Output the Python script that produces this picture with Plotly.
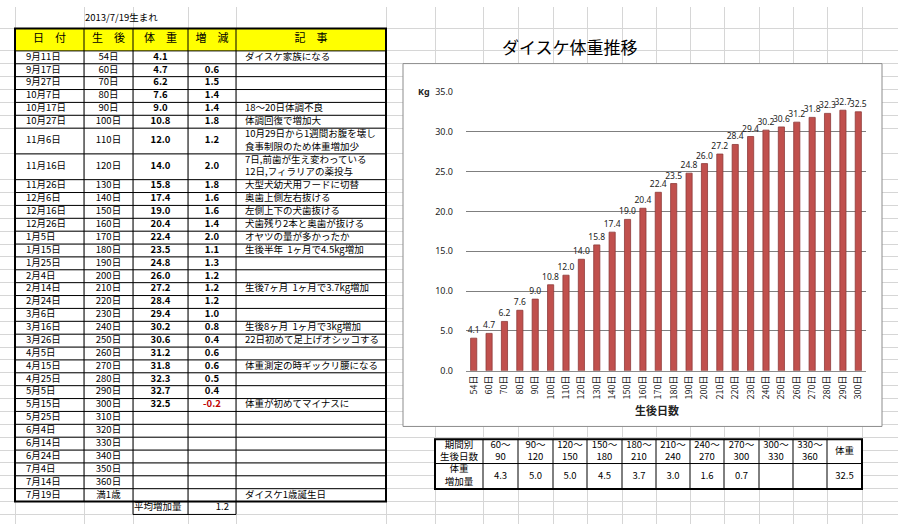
import plotly.graph_objects as go

# ---------------- data ----------------
birth_note = "2013/7/19生まれ"
headers = ["日　付", "生　後", "体　重", "増　減", "記　事"]
dates = ["9月11日", "9月17日", "9月27日", "10月7日", "10月17日", "10月27日", "11月6日", "11月16日",
         "11月26日", "12月6日", "12月16日", "12月26日", "1月5日", "1月15日", "1月25日", "2月4日",
         "2月14日", "2月24日", "3月6日", "3月16日", "3月26日", "4月5日", "4月15日", "4月25日",
         "5月5日", "5月15日", "5月25日", "6月4日", "6月14日", "6月24日", "7月4日", "7月14日", "7月19日"]
ages = ["54日", "60日", "70日", "80日", "90日", "100日", "110日", "120日", "130日", "140日", "150日",
        "160日", "170日", "180日", "190日", "200日", "210日", "220日", "230日", "240日", "250日",
        "260日", "270日", "280日", "290日", "300日", "310日", "320日", "330日", "340日", "350日",
        "360日", "満1歳"]
weights = [4.1, 4.7, 6.2, 7.6, 9.0, 10.8, 12.0, 14.0, 15.8, 17.4, 19.0, 20.4, 22.4, 23.5, 24.8,
           26.0, 27.2, 28.4, 29.4, 30.2, 30.6, 31.2, 31.8, 32.3, 32.7, 32.5]
changes = [None, 0.6, 1.5, 1.4, 1.4, 1.8, 1.2, 2.0, 1.8, 1.6, 1.6, 1.4, 2.0, 1.1, 1.3, 1.2, 1.2,
           1.2, 1.0, 0.8, 0.4, 0.6, 0.6, 0.5, 0.4, -0.2]
notes = ["ダイスケ家族になる", "", "", "", "18〜20日体調不良", "体調回復で増加大",
         "10月29日から1週間お腹を壊し<br>食事制限のため体重増加少",
         "7日,前歯が生え変わっている<br>12日,フィラリアの薬投与",
         "大型犬幼犬用フードに切替", "奥歯上側左右抜ける", "左側上下の犬歯抜ける",
         "犬歯残り2本と奥歯が抜ける", "オヤツの量が多かったか", "生後半年  1ヶ月で4.5kg増加",
         "", "", "生後7ヶ月  1ヶ月で3.7kg増加", "", "", "生後8ヶ月  1ヶ月で3kg増加",
         "22日初めて足上げオシッコする", "", "体重測定の時ギックリ腰になる", "", "",
         "体重が初めてマイナスに", "", "", "", "", "", "", "ダイスケ1歳誕生日"]
avg_label = "平均増加量"
avg_gain = 1.2

chart_title = "ダイスケ体重推移"
x_title = "生後日数"
y_unit = "Kg"

period_head = "期間別<br>生後日数"
periods = ["60〜<br>90", "90〜<br>120", "120〜<br>150", "150〜<br>180", "180〜<br>210",
           "210〜<br>240", "240〜<br>270", "270〜<br>300", "300〜<br>330", "330〜<br>360"]
gain_head = "体重<br>増加量"
period_gains = [4.3, 5.0, 5.0, 4.5, 3.7, 3.0, 1.6, 0.7, None, None]
weight_head = "体重"
current_weight = 32.5

# ---------------- layout geometry (pixels) ----------------
W, H = 898, 530
FONT = "Noto Sans CJK JP"
BODY = 9.5
LT_COLS = [15, 84, 133, 188, 236, 386]
LT_TOP, LT_HEAD_BOT = 22, 45
ROW_U = 13.2
row_h = [ROW_U * (n.count("<br>") + 1) for n in notes]
edges = [LT_HEAD_BOT]
for h in row_h:
    edges.append(edges[-1] + h)
centers = [(edges[i] + edges[i + 1]) / 2 for i in range(len(row_h))]
BT_COLS = [435, 483, 518, 553, 587, 622, 656, 690, 724, 759, 793, 827, 862]
BT_ROWS = [443, 468, 494]
BOX = (403, 58, 882, 430)
PLOT_X = (466, 866)
PLOT_Y = (87, 373)

grid_x = LT_COLS + BT_COLS
grid_y = [1, LT_TOP, LT_HEAD_BOT] + edges[1:] + [edges[-1] + ROW_U]

fig = go.Figure()


def text_trace(xs, ys, texts, pos="middle center", size=BODY, color="black", weight="normal"):
    fig.add_trace(go.Scatter(
        x=xs, y=ys, text=texts, mode="text", textposition=pos,
        textfont=dict(family=FONT, size=size, color=color, weight=weight),
        xaxis="x", yaxis="y", hoverinfo="skip", showlegend=False, cliponaxis=False))


def mid(a, b):
    return (a + b) / 2


# left table
hdr_x = [mid(LT_COLS[i], LT_COLS[i + 1]) for i in range(5)]
text_trace(hdr_x, [mid(LT_TOP, LT_HEAD_BOT)] * 5, headers, size=11)
text_trace([LT_COLS[0] + 11] * len(dates), centers, dates, pos="middle right")
text_trace([hdr_x[1]] * len(ages), centers, ages)
text_trace([hdr_x[2]] * len(weights), centers[:len(weights)], [f"{w:.1f}" for w in weights],
           weight="bold")
ci = [i for i, c in enumerate(changes) if c is not None]
text_trace([hdr_x[3]] * len(ci), [centers[i] for i in ci], [f"{changes[i]:.1f}" for i in ci],
           color=["#c00000" if changes[i] < 0 else "black" for i in ci], weight="bold")
ni = [i for i, n in enumerate(notes) if n]
text_trace([LT_COLS[4] + 9] * len(ni), [centers[i] for i in ni], [notes[i] for i in ni],
           pos="middle right")
avg_y = edges[-1] + ROW_U / 2
text_trace([LT_COLS[2] + 1], [avg_y], [avg_label], pos="middle right")
text_trace([LT_COLS[4] - 7], [avg_y], [f"{avg_gain:.1f}"], pos="middle left")
text_trace([LT_COLS[1] + 1], [12], [birth_note], pos="middle right")

# bottom table
bt_x = [mid(BT_COLS[i], BT_COLS[i + 1]) for i in range(len(BT_COLS) - 1)]
r1, r2 = mid(BT_ROWS[0], BT_ROWS[1]), mid(BT_ROWS[1], BT_ROWS[2])
text_trace(bt_x, [r1] * len(bt_x), [period_head] + periods + [weight_head])
gi = [i for i, g in enumerate(period_gains) if g is not None]
text_trace([bt_x[0]] + [bt_x[i + 1] for i in gi] + [bt_x[-1]], [r2] * (len(gi) + 2),
           [gain_head] + [f"{period_gains[i]:.1f}" for i in gi] + [f"{current_weight:.1f}"])

# bar chart
fig.add_trace(go.Bar(
    x=ages[:len(weights)], y=weights, xaxis="x2", yaxis="y2",
    marker=dict(color="#c0504d", line=dict(color="#8e3a38", width=0.8)),
    width=0.4, text=[f"{w:.1f}" for w in weights], textposition="outside",
    textangle=0, constraintext="none", cliponaxis=False,
    textfont=dict(family="Noto Sans", size=8.5, color="#222"),
    hoverinfo="skip", showlegend=False))

# ---------------- shapes ----------------
shapes = []


def rect(x0, y0, x1, y1, fill=None, line_color="black", width=1, layer="above"):
    shapes.append(dict(type="rect", xref="x", yref="y", x0=x0, y0=y0, x1=x1, y1=y1,
                       fillcolor=fill if fill else "rgba(0,0,0,0)",
                       line=dict(color=line_color, width=width), layer=layer))


def hline(x0, x1, y, width=1, color="black"):
    shapes.append(dict(type="line", xref="x", yref="y", x0=x0, x1=x1, y0=y, y1=y,
                       line=dict(color=color, width=width)))


def vline(x, y0, y1, width=1, color="black"):
    shapes.append(dict(type="line", xref="x", yref="y", x0=x, x1=x, y0=y0, y1=y1,
                       line=dict(color=color, width=width)))


# chart box
rect(*BOX, fill="white", line_color="#8c8c8c", width=1, layer="between")
# left table fills / lines
rect(LT_COLS[0], LT_TOP, LT_COLS[-1], LT_HEAD_BOT, fill="#ffff00", line_color="rgba(0,0,0,0)",
     width=0, layer="between")
for x in LT_COLS[1:-1]:
    vline(x, LT_TOP, edges[-1])
for y in edges[:-1]:
    hline(LT_COLS[0], LT_COLS[-1], y)
rect(LT_COLS[0], LT_TOP, LT_COLS[-1], edges[-1], width=2)
rect(LT_COLS[2], edges[-1], LT_COLS[4], edges[-1] + ROW_U, width=1)
vline(LT_COLS[3], edges[-1], edges[-1] + ROW_U)
# bottom table
rect(BT_COLS[0], BT_ROWS[0], BT_COLS[-1], BT_ROWS[-1], fill="white", line_color="rgba(0,0,0,0)",
     width=0, layer="between")
for x in BT_COLS[1:-1]:
    vline(x, BT_ROWS[0], BT_ROWS[-1])
hline(BT_COLS[0], BT_COLS[-1], BT_ROWS[1])
rect(BT_COLS[0], BT_ROWS[0], BT_COLS[-1], BT_ROWS[-1], width=2)

# ---------------- annotations ----------------
annotations = [
    dict(text=chart_title, x=570, y=41, xref="x", yref="y", showarrow=False,
         font=dict(family=FONT, size=17, color="black")),
    dict(text=y_unit, x=424, y=PLOT_Y[0], xref="x", yref="y", showarrow=False,
         font=dict(family="Noto Sans", size=9, color="#222", weight="bold")),
    dict(text=x_title, x=657, y=413, xref="x", yref="y", showarrow=False,
         font=dict(family=FONT, size=11, color="#222", weight="bold")),
]

fig.update_layout(
    width=W, height=H, margin=dict(l=0, r=0, t=0, b=0),
    paper_bgcolor="white", plot_bgcolor="white",
    showlegend=False, shapes=shapes, annotations=annotations,
    xaxis=dict(domain=[0, 1], range=[0, W], tickvals=grid_x, showgrid=True,
               gridcolor="#d6d6d6", gridwidth=1, showticklabels=False, zeroline=False,
               showline=False, ticks="", fixedrange=True),
    yaxis=dict(domain=[0, 1], range=[H, 0], tickvals=grid_y, showgrid=True,
               gridcolor="#d6d6d6", gridwidth=1, showticklabels=False, zeroline=False,
               showline=False, ticks="", fixedrange=True),
    xaxis2=dict(domain=[PLOT_X[0] / W, PLOT_X[1] / W], anchor="y2", type="category",
                tickangle=-90, tickfont=dict(family=FONT, size=9, color="#222"),
                showline=True, linecolor="#8c8c8c", showgrid=False, ticks="",
                fixedrange=True),
    yaxis2=dict(domain=[(H - PLOT_Y[1]) / H, (H - PLOT_Y[0]) / H], anchor="x2",
                range=[0, 35], dtick=5, tickformat=".1f", showgrid=True,
                gridcolor="#7f7f7f", gridwidth=1, zeroline=False, showline=False,
                ticks="", ticklabelstandoff=12,
                tickfont=dict(family="Noto Sans", size=9, color="#222"), fixedrange=True),
)

fig.write_html("out.html")
